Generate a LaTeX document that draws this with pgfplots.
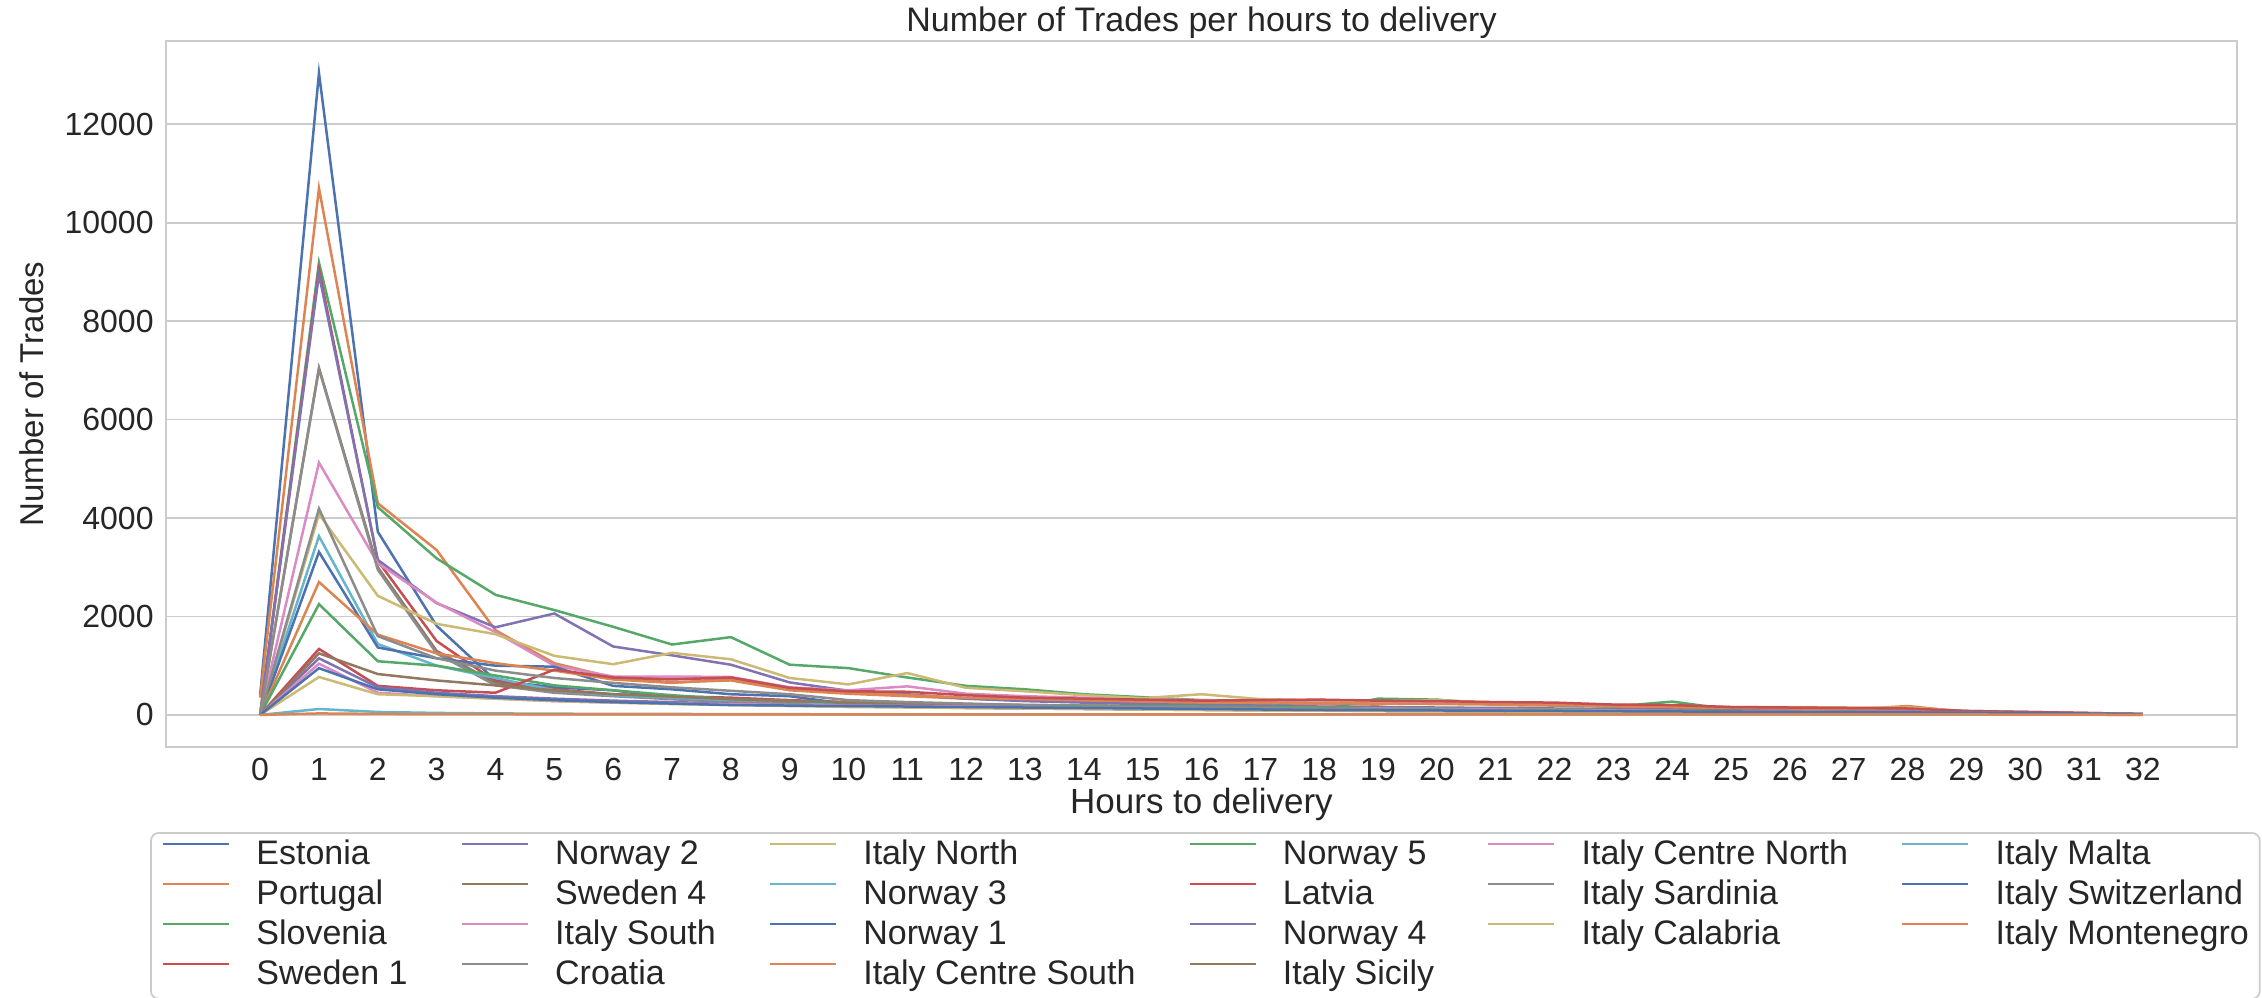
\documentclass[border=0pt]{standalone}
\usepackage{fontspec}
\setmainfont{Liberation Sans}
\usepackage{pgfplots}
\pgfplotsset{compat=1.18}
\definecolor{c0}{HTML}{4C72B0}
\definecolor{c1}{HTML}{DD8452}
\definecolor{c2}{HTML}{55A868}
\definecolor{c3}{HTML}{C44E52}
\definecolor{c4}{HTML}{8172B3}
\definecolor{c5}{HTML}{937860}
\definecolor{c6}{HTML}{DA8BC3}
\definecolor{c7}{HTML}{8C8C8C}
\definecolor{c8}{HTML}{CCB974}
\definecolor{c9}{HTML}{64B5CD}
\definecolor{gridc}{HTML}{CCCCCC}
\definecolor{txt}{HTML}{262626}
\begin{document}
\begin{tikzpicture}
\begin{axis}[
  name=ax,
  scale only axis,
  width=1035.5pt, height=353pt,
  xmin=-1.6, xmax=33.6, ymin=-652, ymax=13692,
  xtick={0,1,...,32}, ytick={0,2000,...,12000},
  scaled y ticks=false,
  /pgf/number format/assume math mode=true,
  /pgf/number format/1000 sep={},
  major tick length=0pt,
  ymajorgrids, grid style={gridc, line width=0.9pt},
  axis line style={gridc, line width=0.9pt},
  tick label style={font=\fontsize{16}{19}\selectfont, text=txt},
  xticklabel style={anchor=base, yshift=-17pt},
  yticklabel style={anchor=east, inner sep=0pt, xshift=-6pt},
  every axis title shift=0pt,
  title={Number of Trades per hours to delivery},
  title style={font=\fontsize{17}{20}\selectfont, text=txt, at={(axis description cs:0.5,1)}, anchor=base, yshift=4.5pt},
  xlabel={Hours to delivery},
  xlabel style={font=\fontsize{17.5}{20}\selectfont, text=txt, at={(axis description cs:0.5,0)}, anchor=base, yshift=-33.5pt},
  ylabel={Number of Trades},
  ylabel style={font=\fontsize{16.5}{20}\selectfont, text=txt, at={(axis description cs:-0.0647,0.5)}, anchor=center},
  legend columns=6,
  legend cell align=left,
  legend style={at={(axis description cs:-0.0077,-0.1204)}, anchor=north west, draw=gridc, line width=0.9pt, rounded corners=4pt, fill=white, font=\fontsize{17}{20}\selectfont, text=txt, inner xsep=5.5pt, inner ysep=3.5pt, row sep=4pt, nodes={inner sep=0pt, text height=12.5pt, text depth=3.5pt}, /tikz/every odd column/.append style={column sep=13pt}, /tikz/every even column/.append style={column sep=26.5pt}},
  legend image code/.code={\draw[#1] (0pt,6pt) -- (33pt,6pt);},
  every axis plot/.append style={line width=1.25pt, forget plot},
]
% Estonia
\addplot[c0] coordinates {(0,400)(1,13040)(2,3720)(3,1810)(4,700)(5,560)(6,500)(7,350)(8,300)(9,260)(10,220)(11,200)(12,180)(13,160)(14,150)(15,140)(16,130)(17,120)(18,110)(19,100)(20,95)(21,90)(22,85)(23,80)(24,75)(25,70)(26,60)(27,55)(28,50)(29,40)(30,30)(31,20)(32,10)};
% Portugal
\addplot[c1] coordinates {(0,350)(1,10700)(2,4300)(3,3350)(4,1720)(5,1050)(6,760)(7,660)(8,700)(9,500)(10,430)(11,380)(12,330)(13,300)(14,280)(15,260)(16,240)(17,230)(18,220)(19,210)(20,300)(21,200)(22,190)(23,170)(24,150)(25,120)(26,110)(27,110)(28,180)(29,60)(30,50)(31,30)(32,10)};
% Slovenia
\addplot[c2] coordinates {(0,0)(1,9190)(2,4220)(3,3180)(4,2440)(5,2130)(6,1790)(7,1430)(8,1580)(9,1020)(10,950)(11,760)(12,590)(13,520)(14,420)(15,360)(16,300)(17,280)(18,100)(19,330)(20,310)(21,220)(22,200)(23,170)(24,270)(25,110)(26,100)(27,90)(28,80)(29,60)(30,50)(31,30)(32,10)};
% Sweden 1
\addplot[c3] coordinates {(0,0)(1,9050)(2,3130)(3,1500)(4,680)(5,520)(6,420)(7,380)(8,350)(9,300)(10,260)(11,240)(12,220)(13,200)(14,190)(15,180)(16,170)(17,160)(18,150)(19,140)(20,130)(21,120)(22,110)(23,100)(24,90)(25,80)(26,70)(27,60)(28,50)(29,40)(30,30)(31,20)(32,10)};
% Norway 2
\addplot[c4] coordinates {(0,0)(1,8950)(2,3150)(3,2270)(4,1780)(5,2060)(6,1390)(7,1210)(8,1020)(9,660)(10,490)(11,420)(12,330)(13,280)(14,250)(15,220)(16,200)(17,190)(18,170)(19,160)(20,150)(21,140)(22,130)(23,120)(24,110)(25,100)(26,90)(27,80)(28,70)(29,60)(30,50)(31,30)(32,10)};
% Sweden 4
\addplot[c5] coordinates {(0,0)(1,7050)(2,3000)(3,1300)(4,650)(5,480)(6,400)(7,330)(8,280)(9,230)(10,200)(11,170)(12,150)(13,140)(14,130)(15,120)(16,110)(17,100)(18,90)(19,80)(20,75)(21,70)(22,65)(23,60)(24,55)(25,50)(26,45)(27,40)(28,35)(29,30)(30,25)(31,20)(32,10)};
% Italy South
\addplot[c6] coordinates {(0,0)(1,5125)(2,3080)(3,2280)(4,1680)(5,1000)(6,780)(7,780)(8,770)(9,560)(10,500)(11,580)(12,430)(13,380)(14,350)(15,320)(16,300)(17,290)(18,280)(19,250)(20,240)(21,230)(22,220)(23,200)(24,180)(25,150)(26,140)(27,130)(28,120)(29,80)(30,60)(31,40)(32,15)};
% Croatia
\addplot[c7] coordinates {(0,0)(1,7030)(2,2950)(3,1250)(4,600)(5,450)(6,380)(7,320)(8,260)(9,220)(10,180)(11,160)(12,140)(13,130)(14,120)(15,110)(16,100)(17,95)(18,90)(19,85)(20,80)(21,75)(22,70)(23,65)(24,60)(25,55)(26,50)(27,45)(28,40)(29,35)(30,30)(31,20)(32,10)};
% Italy North
\addplot[c8] coordinates {(0,0)(1,4080)(2,2420)(3,1850)(4,1640)(5,1200)(6,1030)(7,1260)(8,1130)(9,750)(10,620)(11,850)(12,550)(13,480)(14,400)(15,340)(16,420)(17,320)(18,300)(19,280)(20,300)(21,250)(22,230)(23,200)(24,180)(25,160)(26,160)(27,150)(28,150)(29,80)(30,60)(31,40)(32,20)};
% Norway 3
\addplot[c9] coordinates {(0,0)(1,3630)(2,1440)(3,1000)(4,750)(5,500)(6,400)(7,350)(8,300)(9,280)(10,200)(11,180)(12,160)(13,150)(14,140)(15,130)(16,120)(17,110)(18,100)(19,90)(20,85)(21,80)(22,75)(23,70)(24,65)(25,60)(26,55)(27,50)(28,45)(29,40)(30,35)(31,25)(32,10)};
% Norway 1
\addplot[c0] coordinates {(0,0)(1,3310)(2,1370)(3,1150)(4,1000)(5,980)(6,590)(7,520)(8,420)(9,380)(10,220)(11,200)(12,180)(13,160)(14,150)(15,140)(16,130)(17,120)(18,110)(19,100)(20,95)(21,90)(22,85)(23,80)(24,75)(25,70)(26,65)(27,60)(28,55)(29,50)(30,45)(31,30)(32,10)};
% Italy Centre South
\addplot[c1] coordinates {(0,0)(1,2700)(2,1630)(3,1250)(4,1050)(5,900)(6,720)(7,650)(8,730)(9,520)(10,450)(11,400)(12,350)(13,320)(14,300)(15,280)(16,260)(17,250)(18,240)(19,230)(20,220)(21,210)(22,200)(23,180)(24,160)(25,140)(26,130)(27,120)(28,120)(29,70)(30,50)(31,30)(32,10)};
% Norway 5
\addplot[c2] coordinates {(0,0)(1,2250)(2,1090)(3,1000)(4,800)(5,600)(6,500)(7,400)(8,320)(9,280)(10,250)(11,230)(12,210)(13,200)(14,190)(15,180)(16,170)(17,160)(18,150)(19,140)(20,130)(21,120)(22,110)(23,100)(24,90)(25,80)(26,70)(27,60)(28,50)(29,40)(30,30)(31,20)(32,10)};
% Latvia
\addplot[c3] coordinates {(0,0)(1,1340)(2,590)(3,500)(4,450)(5,920)(6,760)(7,720)(8,760)(9,550)(10,480)(11,470)(12,400)(13,350)(14,330)(15,310)(16,290)(17,300)(18,310)(19,290)(20,280)(21,260)(22,250)(23,210)(24,200)(25,160)(26,150)(27,140)(28,130)(29,80)(30,60)(31,40)(32,20)};
% Norway 4
\addplot[c4] coordinates {(0,0)(1,1150)(2,560)(3,450)(4,380)(5,330)(6,290)(7,260)(8,230)(9,200)(10,180)(11,160)(12,150)(13,140)(14,130)(15,120)(16,110)(17,100)(18,95)(19,90)(20,85)(21,80)(22,75)(23,70)(24,65)(25,60)(26,55)(27,50)(28,45)(29,40)(30,30)(31,20)(32,10)};
% Italy Sicily
\addplot[c5] coordinates {(0,0)(1,1250)(2,830)(3,700)(4,600)(5,500)(6,420)(7,370)(8,320)(9,280)(10,250)(11,220)(12,200)(13,180)(14,170)(15,160)(16,150)(17,140)(18,130)(19,120)(20,110)(21,100)(22,95)(23,90)(24,85)(25,80)(26,70)(27,65)(28,60)(29,40)(30,30)(31,20)(32,10)};
% Italy Centre North
\addplot[c6] coordinates {(0,0)(1,1040)(2,450)(3,380)(4,330)(5,280)(6,250)(7,230)(8,220)(9,200)(10,190)(11,180)(12,170)(13,160)(14,150)(15,140)(16,130)(17,120)(18,110)(19,130)(20,120)(21,110)(22,100)(23,90)(24,80)(25,70)(26,70)(27,60)(28,60)(29,40)(30,30)(31,20)(32,10)};
% Italy Sardinia
\addplot[c7] coordinates {(0,0)(1,4190)(2,1600)(3,1150)(4,900)(5,750)(6,650)(7,560)(8,490)(9,420)(10,300)(11,260)(12,230)(13,200)(14,180)(15,160)(16,150)(17,140)(18,130)(19,120)(20,110)(21,100)(22,90)(23,80)(24,75)(25,70)(26,65)(27,60)(28,55)(29,50)(30,40)(31,30)(32,15)};
% Italy Calabria
\addplot[c8] coordinates {(0,0)(1,770)(2,420)(3,380)(4,330)(5,280)(6,250)(7,220)(8,200)(9,180)(10,160)(11,150)(12,140)(13,130)(14,120)(15,110)(16,100)(17,90)(18,85)(19,80)(20,75)(21,70)(22,65)(23,60)(24,55)(25,50)(26,45)(27,40)(28,35)(29,30)(30,25)(31,20)(32,10)};
% Italy Malta
\addplot[c9] coordinates {(0,0)(1,120)(2,60)(3,40)(4,30)(5,25)(6,20)(7,20)(8,15)(9,15)(10,10)(11,10)(12,10)(13,10)(14,10)(15,10)(16,10)(17,10)(18,10)(19,10)(20,10)(21,10)(22,10)(23,10)(24,10)(25,10)(26,10)(27,5)(28,5)(29,5)(30,5)(31,5)(32,0)};
% Italy Switzerland
\addplot[c0] coordinates {(0,0)(1,950)(2,520)(3,420)(4,350)(5,300)(6,260)(7,230)(8,200)(9,190)(10,180)(11,170)(12,160)(13,150)(14,140)(15,130)(16,120)(17,110)(18,100)(19,95)(20,90)(21,85)(22,80)(23,75)(24,70)(25,65)(26,60)(27,55)(28,50)(29,45)(30,40)(31,30)(32,15)};
% Italy Montenegro
\addplot[c1] coordinates {(0,0)(1,30)(2,20)(3,15)(4,15)(5,10)(6,10)(7,10)(8,10)(9,10)(10,10)(11,10)(12,10)(13,10)(14,10)(15,10)(16,10)(17,10)(18,10)(19,10)(20,10)(21,10)(22,10)(23,10)(24,10)(25,10)(26,10)(27,10)(28,10)(29,10)(30,5)(31,5)(32,0)};
% legend, matplotlib column-major order laid out row by row
\addlegendimage{c0, line width=1.25pt}\addlegendentry{Estonia}
\addlegendimage{c4, line width=1.25pt}\addlegendentry{Norway 2}
\addlegendimage{c8, line width=1.25pt}\addlegendentry{Italy North}
\addlegendimage{c2, line width=1.25pt}\addlegendentry{Norway 5}
\addlegendimage{c6, line width=1.25pt}\addlegendentry{Italy Centre North}
\addlegendimage{c9, line width=1.25pt}\addlegendentry{Italy Malta}
\addlegendimage{c1, line width=1.25pt}\addlegendentry{Portugal}
\addlegendimage{c5, line width=1.25pt}\addlegendentry{Sweden 4}
\addlegendimage{c9, line width=1.25pt}\addlegendentry{Norway 3}
\addlegendimage{c3, line width=1.25pt}\addlegendentry{Latvia}
\addlegendimage{c7, line width=1.25pt}\addlegendentry{Italy Sardinia}
\addlegendimage{c0, line width=1.25pt}\addlegendentry{Italy Switzerland}
\addlegendimage{c2, line width=1.25pt}\addlegendentry{Slovenia}
\addlegendimage{c6, line width=1.25pt}\addlegendentry{Italy South}
\addlegendimage{c0, line width=1.25pt}\addlegendentry{Norway 1}
\addlegendimage{c4, line width=1.25pt}\addlegendentry{Norway 4}
\addlegendimage{c8, line width=1.25pt}\addlegendentry{Italy Calabria}
\addlegendimage{c1, line width=1.25pt}\addlegendentry{Italy Montenegro}
\addlegendimage{c3, line width=1.25pt}\addlegendentry{Sweden 1}
\addlegendimage{c7, line width=1.25pt}\addlegendentry{Croatia}
\addlegendimage{c1, line width=1.25pt}\addlegendentry{Italy Centre South}
\addlegendimage{c5, line width=1.25pt}\addlegendentry{Italy Sicily}
\end{axis}
\pgfresetboundingbox
\path[use as bounding box] ([xshift=-83pt,yshift=-125.5pt]ax.south west) rectangle ([xshift=12.5pt,yshift=20.5pt]ax.north east);
\end{tikzpicture}
\end{document}
